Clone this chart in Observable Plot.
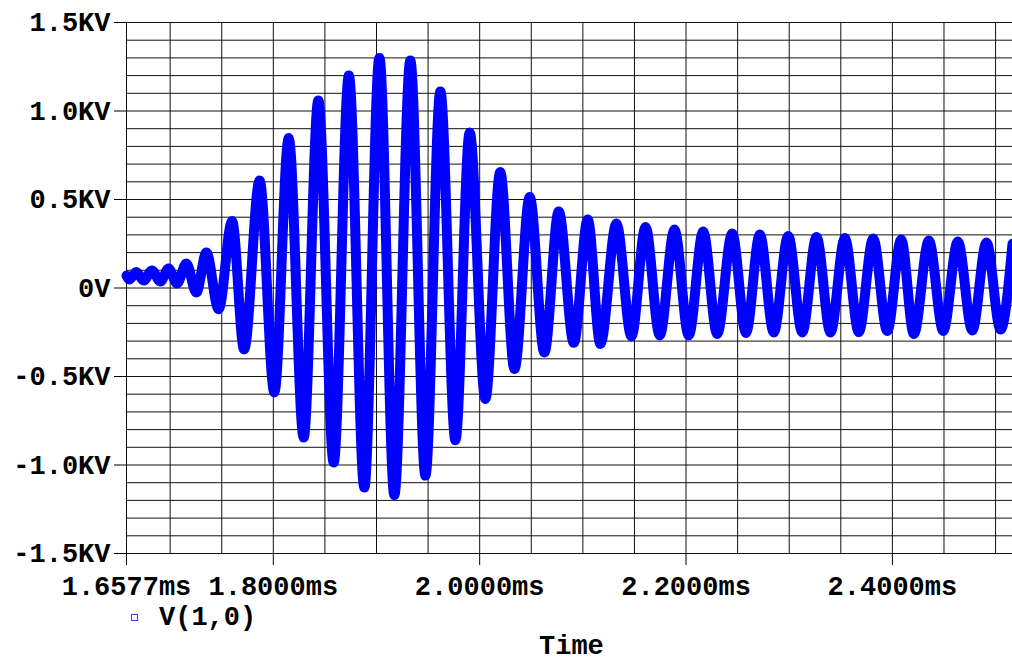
<!DOCTYPE html>
<html><head><meta charset="utf-8">
<script src="https://cdn.jsdelivr.net/npm/d3@7"></script>
<script src="https://cdn.jsdelivr.net/npm/@observablehq/plot@0.6"></script>
<style>
body{margin:0;background:#fff;}
#wrap{position:relative;width:1012px;height:660px;overflow:hidden;background:#fff;font-family:"Liberation Mono","Courier New",monospace;font-weight:bold;}
.lg{position:absolute;font-size:27px;line-height:16px;white-space:pre;color:#000;}
.sq{position:absolute;width:5px;height:5px;border:1.5px solid #3b3bff;background:#fff;}
</style></head><body><div id="wrap"></div>
<script>
// Time (ms) of the waveform's turning points
const timeMs = [1.6577,1.6604,1.6672,1.6743,1.6824,1.6905,1.6985,1.7067,1.7157,1.7254,
  1.7351,1.7470,1.7600,1.7717,1.7867,1.8010,1.8149,1.8294,1.8436,1.8585,
  1.8732,1.8882,1.9028,1.9173,1.9328,1.9474,1.9619,1.9765,1.9903,2.0055,
  2.0199,2.0337,2.0485,2.0627,2.0766,2.0912,2.1047,2.1170,2.1325,2.1471,
  2.1607,2.1745,2.1888,2.2026,2.2166,2.2302,2.2447,2.2581,2.2715,2.2850,
  2.2990,2.3126,2.3264,2.3400,2.3539,2.3674,2.3814,2.3950,2.4085,2.4208,
  2.4353,2.4493,2.4634,2.4774,2.4912,2.5048,2.5164];
// Voltage (KV) at those points
const voltKV = [0.07,0.048,0.09,0.042,0.099,0.037,0.11,0.025,0.138,-0.025,
  0.20,-0.12,0.378,-0.347,0.607,-0.59,0.847,-0.845,1.06,-0.986,
  1.20,-1.127,1.30,-1.17,1.285,-1.06,1.11,-0.86,0.878,-0.627,
  0.655,-0.458,0.514,-0.364,0.432,-0.31,0.387,-0.316,0.364,-0.274,
  0.345,-0.268,0.33,-0.268,0.319,-0.26,0.308,-0.254,0.302,-0.251,
  0.294,-0.251,0.288,-0.251,0.282,-0.249,0.28,-0.243,0.274,-0.26,
  0.268,-0.243,0.263,-0.24,0.257,-0.235,0.25];
const xTicks = [1.6577, 1.8, 2.0, 2.2, 2.4];
const xTickLabels = ["1.6577ms","1.8000ms","2.0000ms","2.2000ms","2.4000ms"];
const yTicks = [-1.5, -1, -0.5, 0, 0.5, 1, 1.5];
const yTickLabels = ["-1.5KV","-1.0KV","-0.5KV","0V","0.5KV","1.0KV","1.5KV"];
const seriesName = "V(1,0)";
const xLabel = "Time";

const data = timeMs.map((t, i) => ({t, v: voltKV[i]}));
const xGrid = [1.6577, ...d3.range(34, 51).map(k => k * 0.05)];
const yGrid = d3.range(-15, 16).map(k => k / 10);

const chart = Plot.plot({
  width: 1012, height: 600,
  marginLeft: 126, marginRight: 0, marginTop: 22, marginBottom: 47,
  x: {domain: [1.6577, 2.5164]},
  y: {domain: [-1.5, 1.5]},
  style: {fontFamily: '"Liberation Mono","Courier New",monospace', fontSize: "27px", fontWeight: "bold", color: "#000", background: "#fff", overflow: "visible"},
  marks: [
    Plot.ruleY(yGrid, {stroke: "#111", strokeWidth: 1}),
    Plot.ruleX(xGrid, {stroke: "#111", strokeWidth: 1}),
    Plot.axisX({ticks: xTicks, tickFormat: d => xTickLabels[xTicks.indexOf(d)], tickSize: 12, tickPadding: 10, label: null, fontSize: 27}),
    Plot.axisY({ticks: yTicks, tickFormat: d => yTickLabels[yTicks.indexOf(d)], tickSize: 12, tickPadding: 4, label: null, fontSize: 27}),
    Plot.line(data, {x: "t", y: "v", stroke: "#0000ff", strokeWidth: 10, curve: "monotone-x", strokeLinejoin: "round"})
  ]
});
const wrap = document.getElementById("wrap");
wrap.appendChild(chart);
const sq = document.createElement("div"); sq.className = "sq"; sq.style.left = "131px"; sq.style.top = "614px"; wrap.appendChild(sq);
const lt = document.createElement("div"); lt.className = "lg"; lt.textContent = seriesName; lt.style.left = "159px"; lt.style.top = "609.5px"; wrap.appendChild(lt);
const tl = document.createElement("div"); tl.className = "lg"; tl.textContent = xLabel; tl.style.left = "539px"; tl.style.top = "638.5px"; wrap.appendChild(tl);
</script></body></html>
